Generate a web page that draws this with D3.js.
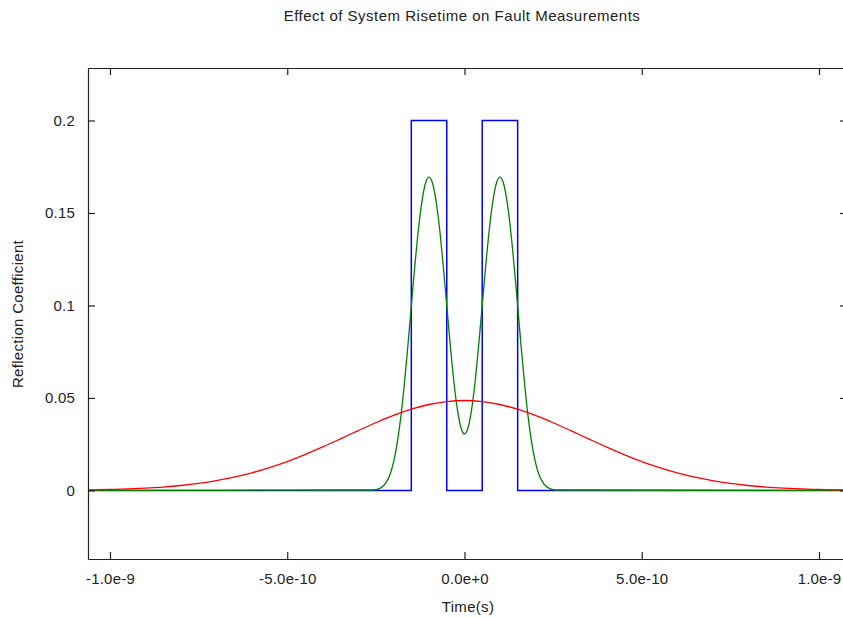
<!DOCTYPE html>
<html>
<head>
<meta charset="utf-8">
<title>Effect of System Risetime on Fault Measurements</title>
<script src="https://d3js.org/d3.v7.min.js"></script>
<style>
  body { margin: 0; background: #fff; }
  text { font-family: "Liberation Sans", Arial, sans-serif; fill: #222; }
</style>
</head>
<body>
<div id="chart"></div>
<script>
// times are in units of 1e-10 s
var blueT = [-10.62, -1.5, -1.5, -0.5, -0.5, 0.5, 0.5, 1.5, 1.5, 10.79];
var blueV = [0, 0, 0.2, 0.2, 0, 0, 0.2, 0.2, 0, 0];

var greenT = [-10.62,
  -2.6, -2.5, -2.4, -2.3, -2.2, -2.1, -2.0, -1.9, -1.8, -1.7, -1.6, -1.5, -1.4,
  -1.3, -1.2, -1.1, -1.0, -0.9, -0.8, -0.7, -0.6, -0.5, -0.4, -0.3, -0.2, -0.1,
  0,
  0.1, 0.2, 0.3, 0.4, 0.5, 0.6, 0.7, 0.8, 0.9, 1.0, 1.1, 1.2, 1.3,
  1.4, 1.5, 1.6, 1.7, 1.8, 1.9, 2.0, 2.1, 2.2, 2.3, 2.4, 2.5, 2.6,
  10.79];
var greenV = [0,
  0.0002, 0.0004, 0.0010, 0.0022, 0.0046, 0.0086, 0.0153, 0.0253, 0.0391, 0.0567, 0.0773, 0.0998, 0.1215,
  0.1411, 0.1563, 0.1661, 0.1694, 0.1661, 0.1563, 0.1411, 0.1216, 0.1000, 0.0784, 0.0589, 0.0437, 0.0339,
  0.0306,
  0.0339, 0.0437, 0.0589, 0.0784, 0.1000, 0.1216, 0.1411, 0.1563, 0.1661, 0.1694, 0.1661, 0.1563, 0.1411,
  0.1215, 0.0998, 0.0773, 0.0567, 0.0391, 0.0253, 0.0153, 0.0086, 0.0046, 0.0022, 0.0010, 0.0004, 0.0002,
  0];

var redT = [-10.62, -10.5, -10, -9.5, -9, -8.5, -8, -7.5, -7, -6.5, -6, -5.5, -5, -4.5, -4, -3.5, -3, -2.5, -2, -1.5, -1, -0.5,
  0, 0.5, 1, 1.5, 2, 2.5, 3, 3.5, 4, 4.5, 5, 5.5, 6, 6.5, 7, 7.5, 8, 8.5, 9, 9.5, 10, 10.5, 10.79];
var redV = [0.0003, 0.00032, 0.00052, 0.0008, 0.00122, 0.00182, 0.00265, 0.00377, 0.00524, 0.00712, 0.00946, 0.01229,
  0.0156, 0.01936, 0.02348, 0.02785, 0.03229, 0.03658, 0.04052, 0.04388, 0.04644, 0.04805,
  0.0486,
  0.04805, 0.04644, 0.04388, 0.04052, 0.03658, 0.03229, 0.02785, 0.02348, 0.01936, 0.0156, 0.01229, 0.00946,
  0.00712, 0.00524, 0.00377, 0.00265, 0.00182, 0.00122, 0.0008, 0.00052, 0.00032, 0.00026];

var xTicks = [-1e-9, -5e-10, 0, 5e-10, 1e-9];
var xTickLabels = ["-1.0e-9", "-5.0e-10", "0.0e+0", "5.0e-10", "1.0e-9"];
var yTicks = [0, 0.05, 0.1, 0.15, 0.2];
var yTickLabels = ["0", "0.05", "0.1", "0.15", "0.2"];

var W = 843, H = 617;
var mLeft = 88, mRight = 847, mTop = 68, mBottom = 559;

var svg = d3.select("#chart").append("svg")
    .attr("width", W).attr("height", H);

var x = d3.scaleLinear().domain([-1.062e-9, 1.079e-9]).range([mLeft, mRight]);
var y = d3.scaleLinear().domain([-0.0371, 0.2284]).range([mBottom, mTop]);

function zip(ts, vs) { return ts.map(function(t, i) { return [t * 1e-10, vs[i]]; }); }

var line = d3.line()
    .x(function(d) { return x(d[0]); })
    .y(function(d) { return y(d[1]); });

svg.append("defs").append("clipPath").attr("id", "clip")
  .append("rect").attr("x", mLeft).attr("y", mTop).attr("width", mRight - mLeft).attr("height", mBottom - mTop);

var plot = svg.append("g").attr("clip-path", "url(#clip)");

plot.append("path").datum(zip(blueT, blueV))
    .attr("fill", "none").attr("stroke", "#0000ff").attr("stroke-width", 1.5)
    .attr("d", line);
plot.append("path").datum(zip(greenT, greenV))
    .attr("fill", "none").attr("stroke", "#008000").attr("stroke-width", 1.3)
    .attr("d", line.curve(d3.curveMonotoneX));
plot.append("path").datum(zip(redT, redV))
    .attr("fill", "none").attr("stroke", "#ff0000").attr("stroke-width", 1.3)
    .attr("d", line.curve(d3.curveMonotoneX));

// axes, ticks pointing inward on all four sides
var tk = 7;
var bottomAxis = d3.axisBottom(x).tickValues(xTicks).tickSizeInner(-tk).tickSizeOuter(0)
    .tickPadding(14).tickFormat(function(d, i) { return xTickLabels[i]; });
var topAxis = d3.axisTop(x).tickValues(xTicks).tickSizeInner(-tk).tickSizeOuter(0).tickFormat("");
var leftAxis = d3.axisLeft(y).tickValues(yTicks).tickSizeInner(-tk).tickSizeOuter(0)
    .tickPadding(13).tickFormat(function(d, i) { return yTickLabels[i]; });
var rightAxis = d3.axisRight(y).tickValues(yTicks).tickSizeInner(-tk).tickSizeOuter(0).tickFormat("");

var axes = [
  svg.append("g").attr("transform", "translate(0," + mBottom + ")").call(bottomAxis),
  svg.append("g").attr("transform", "translate(0," + mTop + ")").call(topAxis),
  svg.append("g").attr("transform", "translate(" + mLeft + ",0)").call(leftAxis),
  svg.append("g").attr("transform", "translate(" + mRight + ",0)").call(rightAxis)
];
axes.forEach(function(g) {
  g.select(".domain").attr("stroke", "#222").attr("stroke-width", 1.2);
  g.selectAll(".tick line").attr("stroke", "#222").attr("stroke-width", 1.2);
  g.selectAll(".tick text").attr("font-size", 15).attr("letter-spacing", 0.2)
    .attr("font-family", "Liberation Sans, Arial, sans-serif").attr("fill", "#222");
});

svg.append("text").attr("x", 462).attr("y", 21).attr("text-anchor", "middle")
    .attr("font-size", 15).attr("letter-spacing", 0.5).text("Effect of System Risetime on Fault Measurements");
svg.append("text").attr("x", 468).attr("y", 612).attr("text-anchor", "middle")
    .attr("font-size", 15).attr("letter-spacing", 0.3).text("Time(s)");
svg.append("text").attr("transform", "translate(23,314) rotate(-90)").attr("text-anchor", "middle")
    .attr("font-size", 15).attr("letter-spacing", 0.3).text("Reflection Coefficient");
</script>
</body>
</html>
